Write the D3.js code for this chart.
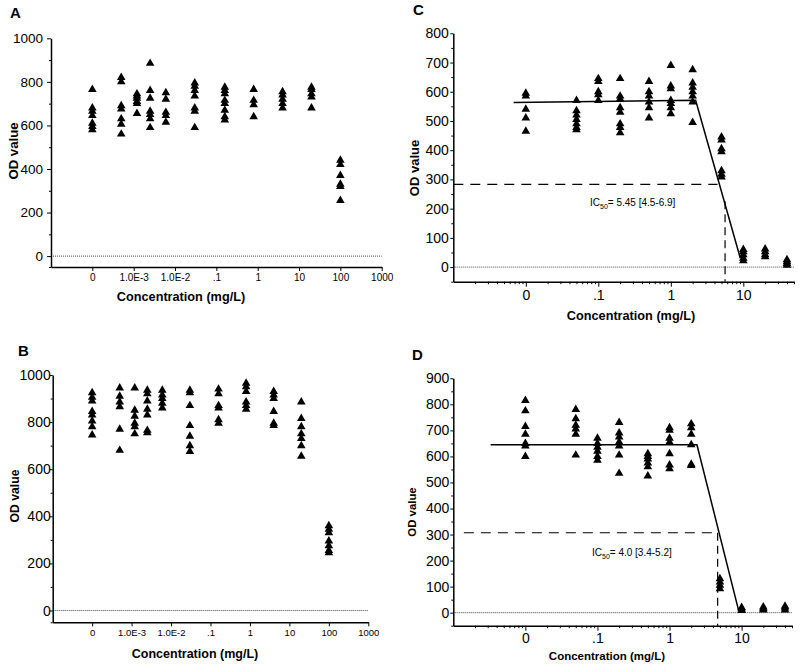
<!DOCTYPE html>
<html><head><meta charset="utf-8">
<script src="https://cdn.jsdelivr.net/npm/d3@7"></script>
<style>
body{margin:0;background:#fff}
svg{display:block}
text{font-family:"Liberation Sans",Arial,sans-serif;fill:#000}
</style>
</head><body>
<svg id="chart" width="800" height="667"></svg>
<script>
// ---------------- DATA ----------------
// Panels A & B: concentrations (mg/L); 0 is plotted at the "0" tick position
const concAB = [0, 0.0005, 0.0012, 0.0025, 0.006, 0.03, 0.16, 0.8, 4, 20, 100];
const zeroPosAB = 1e-4;
const valuesA = [
  [765, 680, 665, 645, 610, 595, 580],
  [820, 800, 690, 675, 630, 605, 560],
  [745, 735, 725, 710, 700, 655],
  [885, 760, 725, 665, 650, 630, 590],
  [750, 720, 660, 645, 615],
  [795, 780, 760, 735, 680, 665, 590],
  [775, 760, 745, 715, 700, 670, 640, 625],
  [765, 715, 695, 640],
  [755, 740, 720, 700, 680],
  [775, 765, 745, 730, 680],
  [440, 420, 370, 330, 320, 255]
];
const valuesB = [
  [925, 905, 890, 845, 830, 805, 780, 745],
  [945, 910, 885, 865, 770, 680],
  [945, 850, 825, 795, 780, 750],
  [935, 920, 890, 855, 830, 765, 755],
  [935, 915, 900, 880, 860],
  [935, 925, 870, 785, 740, 700, 675],
  [940, 920, 870, 860, 810, 795],
  [965, 950, 930, 885, 870, 855],
  [930, 915, 900, 845, 795, 785],
  [885, 815, 780, 750, 730, 700, 655],
  [360, 345, 330, 295, 275, 255, 245]
];
// Panels C & D
const concCD = [0, 0.05, 0.1, 0.2, 0.5, 1, 2, 5, 10, 20, 40];
const zeroPosCD = 0.01;
const valuesC = [
  [595, 585, 540, 510, 465],
  [570, 535, 520, 505, 490, 478, 470],
  [645, 635, 600, 590, 570],
  [645, 585, 575, 545, 530, 490, 478, 460],
  [635, 600, 585, 565, 545, 510],
  [690, 620, 610, 570, 560, 545, 525],
  [675, 630, 615, 600, 585, 565, 495],
  [445, 435, 405, 395, 330, 318, 308],
  [60, 52, 42, 30, 22],
  [62, 52, 42, 35],
  [25, 18, 12, 6]
];
const valuesD = [
  [815, 775, 715, 685, 650, 640, 600],
  [780, 745, 720, 705, 685, 605],
  [670, 650, 635, 620, 600, 585],
  [730, 690, 675, 655, 640, 605, 535],
  [610, 600, 590, 575, 560, 525],
  [710, 700, 670, 655, 610, 567, 553],
  [725, 710, 685, 645, 570, 565],
  [130, 118, 105, 92],
  [20, 14, 8],
  [22, 15, 10],
  [25, 18, 10]
];
// fitted curves and IC50 guides (concentration, OD)
const fitC = [[0.0068, 563], [2.2, 571], [9.1, 30]];
const ic50HC = [[0.001, 283], [4.4, 283]];
const ic50VC = [[5.6, 225], [5.6, -50]];
const ic50TextC = ["IC", "50", "= 5.45 [4.5-6.9]"];
const fitD = [[0.0033, 645], [2.4, 645], [9.1, 8]];
const ic50HD = [[0.0014, 307], [4.6, 307]];
const ic50VD = [[4.65, 307], [4.65, -50]];
const ic50TextD = ["IC", "50", "= 4.0 [3.4-5.2]"];
// tick values / labels
const xTicksAB = [1e-4, 1e-3, 1e-2, 0.1, 1, 10, 100, 1000];
const xLabelsAB = ["0", "1.0E-3", "1.0E-2", ".1", "1", "10", "100", "1000"];
const xTicksCD = [0.01, 0.1, 1, 10];
const xLabelsCD = ["0", ".1", "1", "10"];
const yTicksAB = [0, 200, 400, 600, 800, 1000];
const yMinorAB = [-50, 100, 300, 500, 700, 900];
const yTicksC = [0, 100, 200, 300, 400, 500, 600, 700, 800];
const yMinorC = [-50, 50, 150, 250, 350, 450, 550, 650, 750];
const yTicksD = [0, 100, 200, 300, 400, 500, 600, 700, 800, 900];
const yMinorD = [-50, 50, 150, 250, 350, 450, 550, 650, 750, 850];
const xTitle = "Concentration (mg/L)";
const yTitle = "OD value";

// ---------------- DRAW ----------------
const svg = d3.select("#chart");
const tri = d3.symbol().type(d3.symbolTriangle).size(32);

function drawPanel(p) {
  const x = d3.scaleLog().domain(p.xDomain).range(p.xRange);
  const y = d3.scaleLinear().domain(p.yDomain).range(p.yRange);
  const g = svg.append("g");

  // dotted zero line
  g.append("line")
    .attr("x1", p.xRange[0]).attr("x2", p.xRange[1])
    .attr("y1", y(0)).attr("y2", y(0))
    .attr("stroke", "#444").attr("stroke-width", 1)
    .attr("stroke-dasharray", "1,1");

  // y axis
  const ya = g.append("g").attr("transform", `translate(${p.xRange[0]},0)`)
    .call(d3.axisLeft(y).tickValues(p.yTicks).tickSize(p.yTickLen).tickSizeOuter(0)
      .tickPadding(p.yPad).tickFormat(d3.format("d")));
  ya.attr("font-family", null).attr("font-size", null);
  ya.selectAll("text").style("font-size", p.yFont + "px");
  ya.select(".domain").attr("stroke-width", 1.5);
  g.append("g").attr("transform", `translate(${p.xRange[0]},0)`)
    .call(d3.axisLeft(y).tickValues(p.yMinor).tickSize(2).tickFormat(""))
    .select(".domain").remove();

  // x axis
  const xa = g.append("g").attr("transform", `translate(0,${p.yRange[0]})`)
    .call(d3.axisBottom(x).tickValues(p.xTicks).tickSize(p.xTickLen).tickSizeOuter(0)
      .tickPadding(p.xPad).tickFormat((d, i) => p.xLabels[i]));
  xa.attr("font-family", null).attr("font-size", null);
  xa.selectAll("text").style("font-size", p.xFont + "px");
  xa.select(".domain").attr("stroke-width", 1.5);
  if (p.xMinor) {
    g.append("g").attr("transform", `translate(0,${p.yRange[0]})`)
      .call(d3.axisBottom(x).tickValues(p.xMinor).tickSize(2.5).tickFormat(""))
      .select(".domain").remove();
  }

  // axis titles
  g.append("text").attr("x", p.xTitlePos[0]).attr("y", p.xTitlePos[1])
    .attr("text-anchor", "middle").style("font-weight", "bold")
    .style("font-size", p.xTitleFont + "px").text(xTitle);
  g.append("text").attr("transform", `translate(${p.yTitlePos[0]},${p.yTitlePos[1]}) rotate(-90)`)
    .attr("text-anchor", "middle").attr("dy", "0.36em").style("font-weight", "bold")
    .style("font-size", p.yTitleFont + "px").text(yTitle);

  // panel letter
  g.append("text").attr("x", p.letterPos[0]).attr("y", p.letterPos[1])
    .style("font-weight", "bold").style("font-size", "15px").text(p.letter);

  // fit / guide lines
  const line = d3.line().x(d => x(d[0])).y(d => y(d[1]));
  if (p.fit) {
    g.append("path").attr("d", line(p.fit)).attr("fill", "none")
      .attr("stroke", "#000").attr("stroke-width", 1.5);
    g.append("path").attr("d", line(p.icH)).attr("fill", "none")
      .attr("stroke", "#000").attr("stroke-width", 1.2).attr("stroke-dasharray", "10,7");
    g.append("path").attr("d", line(p.icV)).attr("fill", "none")
      .attr("stroke", "#000").attr("stroke-width", 1.2).attr("stroke-dasharray", "8,5");
    const t = g.append("text").attr("x", p.icTextPos[0]).attr("y", p.icTextPos[1])
      .style("font-size", "10px");
    t.append("tspan").text(p.icText[0]);
    t.append("tspan").attr("dy", 2.5).style("font-size", "7px").text(p.icText[1]);
    t.append("tspan").attr("dy", -2.5).text(p.icText[2]);
  }

  // points
  const pts = [];
  p.conc.forEach((c, i) => {
    p.values[i].forEach(v => pts.push({c: c === 0 ? p.zeroPos : c, v}));
  });
  g.selectAll("path.pt").data(pts).join("path").attr("class", "pt")
    .attr("d", tri)
    .attr("transform", d => `translate(${x(d.c)},${y(d.v)})`)
    .attr("fill", "#000");
}

// minor log ticks for C/D
const minorCD = [];
[0.001, 0.01, 0.1, 1, 10].forEach(dec => {
  for (let m = 2; m <= 9; m++) { if (m * dec <= 50) minorCD.push(m * dec); }
});

drawPanel({
  letter: "A", letterPos: [10, 18],
  xDomain: [1e-5, 1000], xRange: [51, 381.7],
  yDomain: [-50, 1000], yRange: [267, 38.3],
  yTicks: yTicksAB, yMinor: yMinorAB, yTickLen: 4, yPad: 4, yFont: 13.5,
  xTicks: xTicksAB, xLabels: xLabelsAB, xTickLen: 4, xPad: 3, xFont: 10,
  xTitlePos: [181, 301], xTitleFont: 12.7,
  yTitlePos: [13.5, 151], yTitleFont: 13.2,
  conc: concAB, zeroPos: zeroPosAB, values: valuesA
});
drawPanel({
  letter: "B", letterPos: [18, 356],
  xDomain: [1e-5, 1000], xRange: [52.7, 368.3],
  yDomain: [-50, 1000], yRange: [622.3, 375],
  yTicks: yTicksAB, yMinor: yMinorAB, yTickLen: 3, yPad: -1, yFont: 14,
  xTicks: xTicksAB, xLabels: xLabelsAB, xTickLen: 4, xPad: 3.3, xFont: 9.5,
  xTitlePos: [195, 658], xTitleFont: 12.5,
  yTitlePos: [15, 496], yTitleFont: 12.2,
  conc: concAB, zeroPos: zeroPosAB, values: valuesB
});
drawPanel({
  letter: "C", letterPos: [413, 15],
  xDomain: [0.001, 50], xRange: [453.3, 794],
  yDomain: [-50, 800], yRange: [281.7, 33.3],
  yTicks: yTicksC, yMinor: yMinorC, yTickLen: 3, yPad: 1.5, yFont: 14,
  xTicks: xTicksCD, xLabels: xLabelsCD, xMinor: minorCD, xTickLen: 5, xPad: 3, xFont: 14,
  xTitlePos: [631, 320], xTitleFont: 12.7,
  yTitlePos: [414, 168], yTitleFont: 13,
  conc: concCD, zeroPos: zeroPosCD, values: valuesC,
  fit: fitC, icH: ic50HC, icV: ic50VC, icText: ic50TextC, icTextPos: [590, 206]
});
drawPanel({
  letter: "D", letterPos: [412, 360],
  xDomain: [0.001, 50], xRange: [453.3, 792],
  yDomain: [-50, 900], yRange: [625.7, 378.3],
  yTicks: yTicksD, yMinor: yMinorD, yTickLen: 3, yPad: 1, yFont: 14,
  xTicks: xTicksCD, xLabels: xLabelsCD, xMinor: minorCD, xTickLen: 5, xPad: 2.5, xFont: 14,
  xTitlePos: [607, 660], xTitleFont: 11.5,
  yTitlePos: [412, 512], yTitleFont: 11.4,
  conc: concCD, zeroPos: zeroPosCD, values: valuesD,
  fit: fitD, icH: ic50HD, icV: ic50VD, icText: ic50TextD, icTextPos: [592, 556]
});
</script>
</body></html>
